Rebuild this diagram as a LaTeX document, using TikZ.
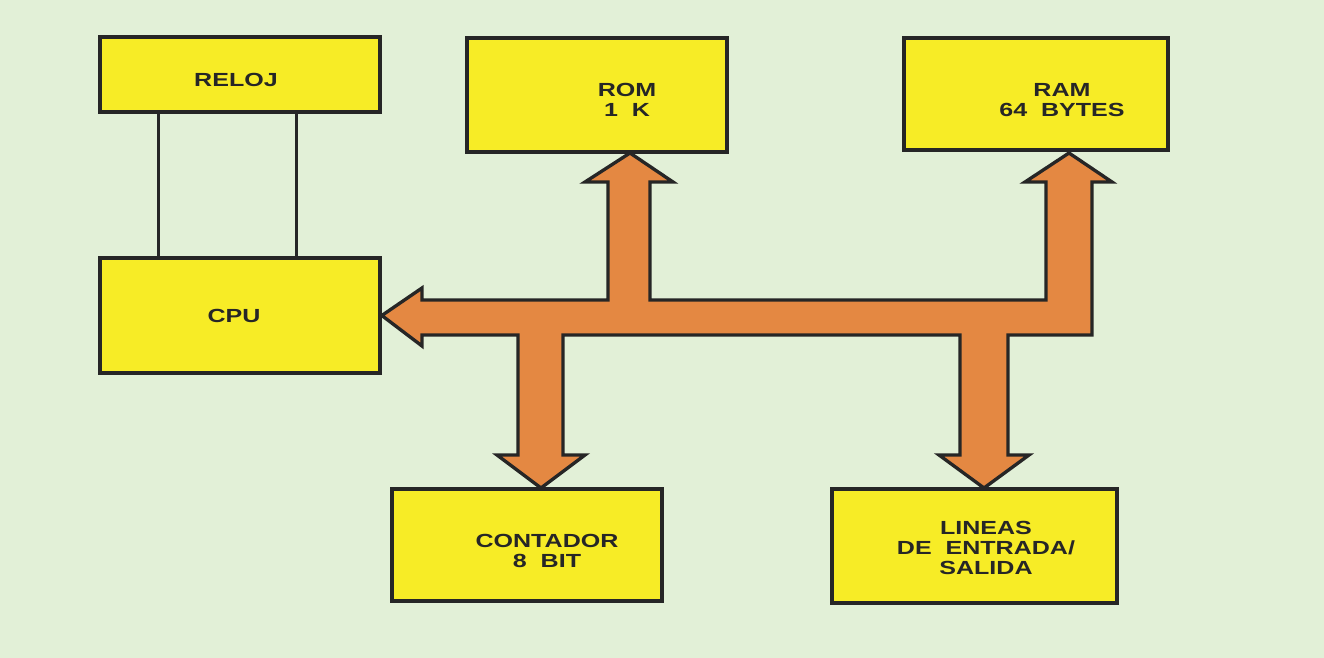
\documentclass[tikz,border=0pt]{standalone}
\usepackage{fontspec}
\usepackage{xcolor}
\newfontfamily\lblfont[FakeStretch=1.32]{Liberation Sans Bold}

\definecolor{fondo}{RGB}{226,240,215}
\definecolor{caja}{RGB}{247,236,38}
\definecolor{bus}{RGB}{228,136,66}

\begin{document}
\begin{tikzpicture}[
    x=0.02cm, y=-0.02cm,
    blk/.style={rectangle, draw=black!85, fill=caja, line width=2.1pt, inner sep=0pt},
    lbl/.style={align=center, inner sep=0pt, text=black!85, font=\lblfont\fontsize{10.8}{11.4}\selectfont},
    wire/.style={line width=1.8pt, draw=black!85},
    busline/.style={fill=bus, draw=black!85, line width=1.9pt, line join=miter},
]

% fondo
\fill[fondo] (0,0) rectangle (1324,658);
\useasboundingbox (0,0) rectangle (1324,658);

% bloques
\node[blk, minimum width=5.6cm,  minimum height=1.5cm]  (reloj)    at (240, 74.5)  {};
\node[blk, minimum width=5.6cm,  minimum height=2.3cm]  (cpu)      at (240, 315.5) {};
\node[blk, minimum width=5.2cm,  minimum height=2.28cm] (rom)      at (597, 95)    {};
\node[blk, minimum width=5.28cm, minimum height=2.24cm] (ram)      at (1036, 94)   {};
\node[blk, minimum width=5.4cm,  minimum height=2.24cm] (contador) at (527, 545)   {};
\node[blk, minimum width=5.7cm,  minimum height=2.28cm] (lineas)   at (974.5, 546) {};

% textos
\node[lbl] (relojtxt)    at (236, 79.5) {RELOJ};
\node[lbl] (cputxt)      at (234, 316)  {CPU};
\node[lbl] (romtxt)      at (627, 100)  {ROM\\1\ \ K};
\node[lbl] (ramtxt)      at (1062, 100) {RAM\\64\ \ BYTES};
\node[lbl] (contadortxt) at (547, 551)  {CONTADOR\\8\ \ BIT};
\node[lbl] (lineastxt)   at (986, 548)  {LINEAS\\DE\ \ ENTRADA/\\SALIDA};

% reloj - cpu
\draw[wire] (reloj.south west) ++(60,0) coordinate (r1) -- (r1 |- cpu.north);
\draw[wire] (reloj.south west) ++(198,0) coordinate (r2) -- (r2 |- cpu.north);

% bus de datos
\draw[busline] (cpu.east) -- (422,288) -- (422,300) -- (608,300)
    -- (608,182) -- (585,182) -- (630,153) -- (673,182) -- (650,182) -- (650,300)
    -- (1046,300) -- (1046,182) -- (1025,182) -- (1069,153) -- (1112,182) -- (1092,182)
    -- (1092,335) -- (1008,335) -- (1008,455) -- (1029,455) -- (984,488) -- (939,455)
    -- (960,455) -- (960,335) -- (563,335) -- (563,455) -- (585,455) -- (541,488)
    -- (497,455) -- (518,455) -- (518,335) -- (422,335) -- (422,346) -- cycle;

\end{tikzpicture}
\end{document}
